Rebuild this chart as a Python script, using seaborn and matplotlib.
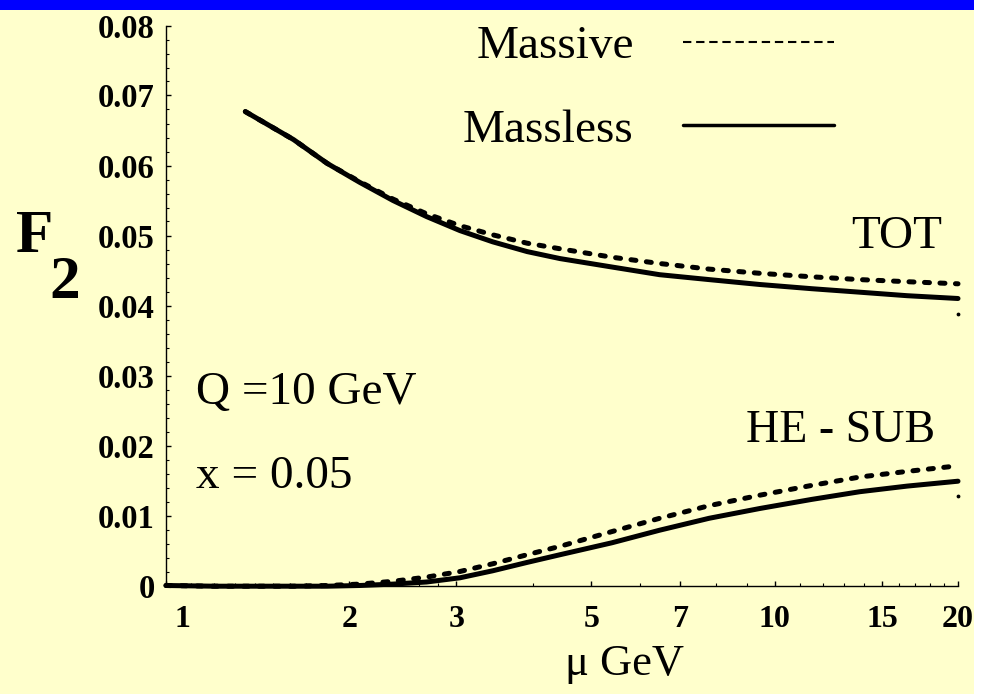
import numpy as np
import pandas as pd
import matplotlib
matplotlib.use("Agg")
import matplotlib.pyplot as plt
from matplotlib.lines import Line2D
from matplotlib.patches import Rectangle
from matplotlib.ticker import NullFormatter
from matplotlib.transforms import ScaledTranslation
import seaborn as sns

# values (mu in GeV, F2)
mu = [1.0, 1.2, 1.35, 1.62, 1.84, 2.08, 2.36, 2.68, 3.04, 3.44, 3.92,
      4.44, 5.4, 6.47, 7.8, 9.45, 11.5, 13.8, 16.5, 20.0]
tot_massless = [np.nan, np.nan, 0.0677, 0.0637, 0.0603, 0.0576, 0.0550, 0.0527,
                0.0507, 0.0491, 0.0477, 0.0467, 0.0455, 0.0444, 0.0437, 0.0430,
                0.0424, 0.0419, 0.0414, 0.0410]
tot_massive = [np.nan, np.nan, 0.0677, 0.0637, 0.0603, 0.0577, 0.0552, 0.0531,
               0.0514, 0.0501, 0.0489, 0.0481, 0.0469, 0.0460, 0.0452, 0.0446,
               0.0441, 0.0437, 0.0434, 0.0431]
sub_massless = [0.0, -0.0001, -0.0001, -0.0001, -0.0001, 0.0, 0.0002, 0.0005,
                0.0011, 0.0021, 0.0033, 0.0044, 0.0061, 0.0079, 0.0096, 0.0110,
                0.0123, 0.0134, 0.0142, 0.0149]
sub_massive = [0.0, -0.0001, -0.0001, -0.0001, 0.0, 0.0002, 0.0006, 0.0012,
               0.0020, 0.0031, 0.0044, 0.0056, 0.0077, 0.0096, 0.0114, 0.0129,
               0.0143, 0.0155, 0.0163, 0.0171]
# two stray dots at the right end
dot_mu = [20.0, 20.0]
dot_f2 = [0.0388, 0.0128]

x_major = [1, 2, 3, 5, 7, 10, 15, 20]
x_minor = [1.1, 1.2, 1.3, 1.4, 1.5, 1.6, 1.7, 1.8, 1.9, 2.2, 2.4, 2.6, 2.8,
           4, 6, 8, 9, 11, 12, 13, 14, 16, 17, 18, 19]
y_major = [0, 0.01, 0.02, 0.03, 0.04, 0.05, 0.06, 0.07, 0.08]
y_labels = ["0", "0.01", "0.02", "0.03", "0.04", "0.05", "0.06", "0.07", "0.08"]

rows = []
for name, vals, model in [("TOT", tot_massless, "Massless"), ("TOT", tot_massive, "Massive"),
                          ("HE-SUB", sub_massless, "Massless"), ("HE-SUB", sub_massive, "Massive")]:
    for m, v in zip(mu, vals):
        rows.append({"mu": m, "F2": v, "curve": name, "model": model})
df = pd.DataFrame(rows).dropna()

sns.set_theme(style="ticks")
plt.rcParams["font.family"] = ["Liberation Serif", "DejaVu Serif"]
plt.rcParams["text.color"] = "black"
plt.rcParams["axes.labelcolor"] = "black"
plt.rcParams["xtick.color"] = "black"
plt.rcParams["ytick.color"] = "black"

bg = "#FFFFCC"
fig = plt.figure(figsize=(9.93, 6.94), dpi=100, facecolor="white")
fig.patches.append(Rectangle((0, 0), 974 / 993, 1, transform=fig.transFigure,
                             facecolor=bg, edgecolor="none", zorder=-10))
fig.patches.append(Rectangle((0, 1 - 9.5 / 694), 974 / 993, 9.5 / 694, transform=fig.transFigure,
                             facecolor="#0000FF", edgecolor="none", zorder=-9))

ax = fig.add_axes([166 / 993, 1 - 585.5 / 694, 792 / 993, 560 / 694])
ax.set_facecolor("none")

sns.lineplot(data=df, x="mu", y="F2", style="model", units="curve", estimator=None,
             dashes={"Massless": "", "Massive": (1.0, 2.1)}, color="black",
             linewidth=3.6, legend=False, ax=ax, clip_on=False,
             dash_capstyle="round", solid_capstyle="round")
ax.scatter(dot_mu, dot_f2, s=3, color="black", clip_on=False, zorder=3)

ax.set_xscale("log")
ax.set_xlim(1, 20)
ax.set_ylim(0, 0.08)
ax.set_xticks(x_major)
ax.set_xticks(x_minor, minor=True)
ax.set_xticklabels([str(t) for t in x_major])
ax.xaxis.set_minor_formatter(NullFormatter())
ax.set_yticks(y_major)
ax.set_yticklabels(y_labels)
ax.set_yticks(np.arange(0, 0.0801, 0.002), minor=True)
ax.yaxis.set_minor_formatter(NullFormatter())

for s in ["top", "right"]:
    ax.spines[s].set_visible(False)
for s in ["left", "bottom"]:
    ax.spines[s].set_linewidth(1.0)
    ax.spines[s].set_color("black")
ax.tick_params(which="major", direction="in", length=3.8, width=1.0, colors="black")
ax.tick_params(which="minor", direction="in", length=2.2, width=0.8, colors="black")
ax.tick_params(axis="x", which="major", pad=14, labelsize=23)
ax.tick_params(axis="y", which="major", pad=8, labelsize=23.5)
for lab in ax.get_xticklabels() + ax.get_yticklabels():
    lab.set_fontweight("bold")
first = ax.get_xticklabels()[0]
first.set_transform(first.get_transform() + ScaledTranslation(0.16, 0, fig.dpi_scale_trans))

ax.set_xlabel("μ GeV", fontsize=32, color="black")
ax.xaxis.set_label_coords(0.5795, -0.141)
ax.xaxis.label.set_va("center")
ax.set_ylabel("")

fig.text(35 / 993, 1 - 237 / 694, "F", fontsize=44, fontweight="bold", ha="center", va="center")
fig.text(65 / 993, 1 - 283 / 694, "2", fontsize=44, fontweight="bold", ha="center", va="center")

ax.text(15.86, 0.0498, "TOT", fontsize=34, ha="center", va="center")
ax.text(12.83, 0.0221, "HE - SUB", fontsize=33, ha="center", va="center")
ax.text(1.12, 0.0275, "Q =10 GeV", fontsize=34, ha="left", va="center")
ax.text(1.12, 0.0155, "x = 0.05", fontsize=34, ha="left", va="center")

handles = [Line2D([], [], color="black", lw=1.5, dashes=(4, 2.3)),
           Line2D([], [], color="black", lw=2.5)]
leg = ax.legend(handles, ["Massive", "Massless"], markerfirst=False, frameon=False,
                fontsize=34, handlelength=3.2, handletextpad=1.05, labelspacing=0.86,
                loc="upper left", bbox_to_anchor=(463 / 993, 1 - 25 / 694),
                bbox_transform=fig.transFigure, borderpad=0, borderaxespad=0)
for t in leg.get_texts():
    t.set_color("black")

fig.savefig("out.png", dpi=100, facecolor=fig.get_facecolor())
